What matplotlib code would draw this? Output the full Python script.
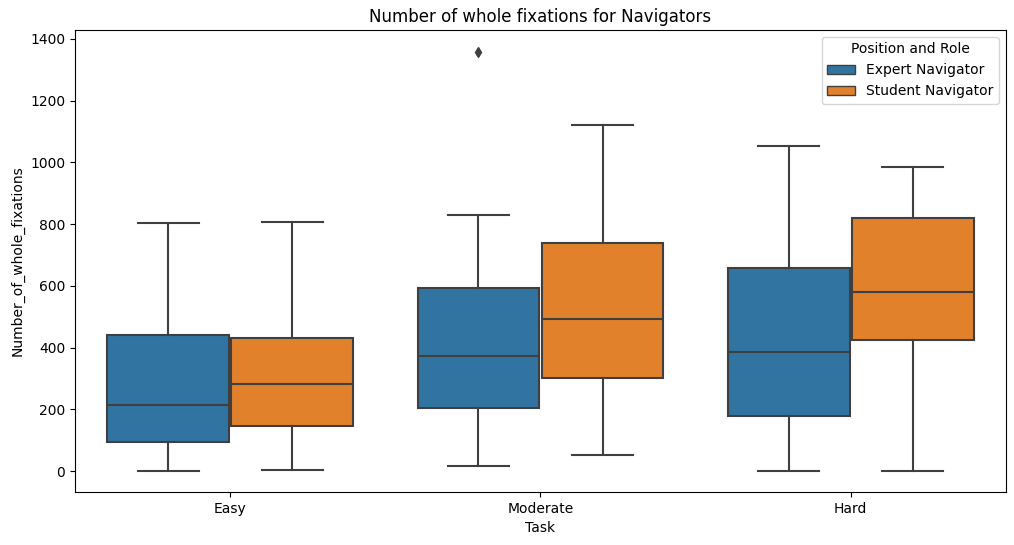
import numpy as np
import matplotlib.pyplot as plt
from matplotlib.patches import Patch

# box statistics
tasks = ['Easy', 'Moderate', 'Hard']
roles = ['Expert Navigator', 'Student Navigator']

expert_low = [0, 16, 1]
expert_q1 = [95, 204, 179]
expert_med = [214, 374, 386]
expert_q3 = [441, 593, 658]
expert_high = [805, 831, 1053]
expert_fliers = [[], [1359], []]

student_low = [4, 52, 0]
student_q1 = [146, 301, 425]
student_med = [283, 494, 581]
student_q3 = [432, 740, 819]
student_high = [807, 1121, 986]
student_fliers = [[], [], []]

colors = ['#3274a1', '#e1812c']
gray = '#3f3f3f'

fig, ax = plt.subplots(figsize=(10.14, 5.45))
fig.subplots_adjust(left=0.074, right=0.992, top=0.945, bottom=0.097)

groups = [
    (expert_low, expert_q1, expert_med, expert_q3, expert_high, expert_fliers),
    (student_low, student_q1, student_med, student_q3, student_high, student_fliers),
]
width = 0.4
lw = 1.5
for j, (lo, q1, med, q3, hi, fl) in enumerate(groups):
    stats = []
    for i in range(len(tasks)):
        stats.append({'whislo': lo[i], 'q1': q1[i], 'med': med[i], 'q3': q3[i],
                      'whishi': hi[i], 'fliers': fl[i]})
    pos = np.arange(len(tasks)) - width / 2 + j * width
    ax.bxp(stats, positions=pos, widths=width * 0.98, capwidths=width * 0.49,
           patch_artist=True, showfliers=True, manage_ticks=False,
           boxprops=dict(facecolor=colors[j], edgecolor=gray, linewidth=lw),
           medianprops=dict(color=gray, linewidth=lw),
           whiskerprops=dict(color=gray, linewidth=lw),
           capprops=dict(color=gray, linewidth=lw),
           flierprops=dict(marker='d', markerfacecolor=gray, markeredgecolor=gray,
                           markersize=5))

ax.set_xticks(range(len(tasks)))
ax.set_xticklabels(tasks)
ax.set_xlim(-0.5, len(tasks) - 0.5)
ax.set_ylim(-68, 1429)
ax.set_xlabel('Task')
ax.set_ylabel('Number_of_whole_fixations')
ax.set_title('Number of whole fixations for Navigators')

handles = [Patch(facecolor=c, edgecolor=gray, label=r) for c, r in zip(colors, roles)]
ax.legend(handles=handles, title='Position and Role', loc='upper right')

plt.savefig('out.png', dpi=100)
